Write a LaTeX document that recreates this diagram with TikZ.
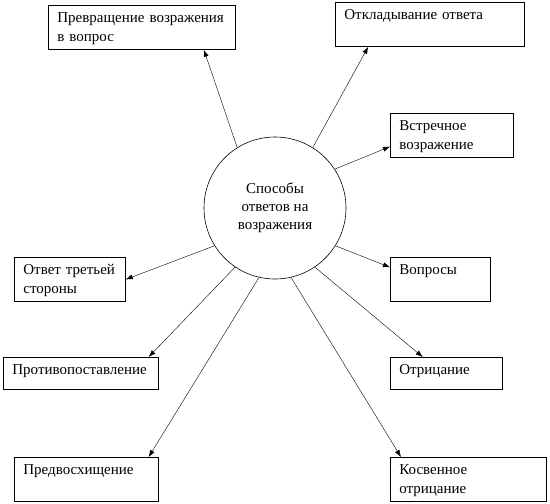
\documentclass[tikz,border=0pt]{standalone}
\usepackage{fontspec}
\setmainfont{Liberation Serif}
\usetikzlibrary{calc,positioning,arrows,arrows.meta,shapes}

\tikzset{
  box/.style={draw, line width=0.8pt, anchor=north west, align=left,
    inner xsep=9pt, inner ysep=5.5pt, text height=12pt, text depth=21pt,
    font=\fontsize{15}{18.5}\selectfont},
  lowbox/.style={box, text depth=9pt},
  centre/.style={draw, circle, line width=0.6pt, minimum size=142pt, align=center,
    font=\fontsize{15}{18}\selectfont}
}

\begin{document}
\begin{tikzpicture}[x=1pt, y=-1pt, >={Latex[length=7pt,width=5pt]}]
\useasboundingbox (0,0) rectangle (550,504);
\node[centre] (c) at (275,208) {Способы\\ответов на\\возражения};
\node[box, text width=169pt] (b1) at (48,5) {Превращение возражения\\в вопрос};
\node[box, text width=171pt] (b2) at (335,2) {Откладывание ответа};
\node[box, text width=105pt] (b3) at (390,113) {Встречное\\возражение};
\node[box, text width=93pt] (b4) at (14,257) {Ответ третьей\\стороны};
\node[box, text width=82pt] (b7) at (390,257) {Вопросы};
\node[lowbox, text width=137pt] (b5) at (3,357) {Противопоставление};
\node[lowbox, text width=94pt] (b8) at (390,357) {Отрицание};
\node[box, text width=126pt] (b6) at (14,457) {Предвосхищение};
\node[box, text width=138pt] (b9) at (390,457) {Косвенное\\отрицание};
\draw[->, thin] (c.122) -- ($(b1.south west)!0.83!(b1.south east)$);
\draw[->, thin] (c.58) -- ($(b2.south west)!0.175!(b2.south east)$);
\draw[->, thin] (c.33) -- ($(b3.north west)!0.75!(b3.south west)$);
\draw[->, thin] (c.212) -- (b4.east);
\draw[->, thin] (c.-32) -- ($(b7.north west)!0.23!(b7.south west)$);
\draw[->, thin] (c.236) -- ($(b5.north west)!0.935!(b5.north east)$);
\draw[->, thin] (c.-56) -- ($(b8.north west)!0.29!(b8.north east)$);
\draw[->, thin] (c.257) -- ($(b6.north west)!0.93!(b6.north east)$);
\draw[->, thin] (c.-77) -- ($(b9.north west)!0.07!(b9.north east)$);
\end{tikzpicture}
\end{document}
